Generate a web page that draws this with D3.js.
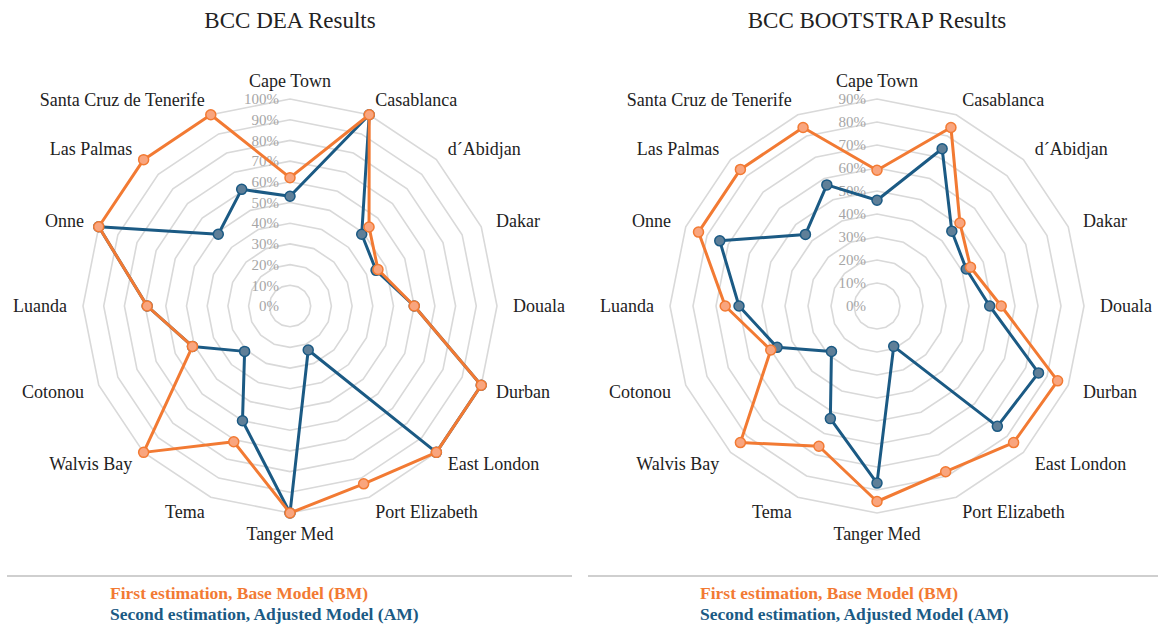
<!DOCTYPE html>
<html>
<head>
<meta charset="utf-8">
<script src="https://cdn.jsdelivr.net/npm/d3@7"></script>
<style>
  body { margin: 0; background: #fff; }
  svg text { font-family: "Liberation Serif", "DejaVu Serif", "Times New Roman", Times, serif; }
</style>
</head>
<body>
<svg width="1161" height="631"></svg>
<script>
const categories = ["Cape Town", "Casablanca", "d´Abidjan", "Dakar", "Douala", "Durban", "East London",
   "Port Elizabeth", "Tanger Med", "Tema", "Walvis Bay", "Cotonou", "Luanda", "Onne", "Las Palmas",
   "Santa Cruz de Tenerife"];

// BCC DEA (%)
const deaBM = [62, 100, 54, 46, 60, 100, 100, 93, 100, 71, 100, 51, 69, 100, 100, 100];
const deaAM = [53, 100, 49, 45, 60, 100, 100, 23, 100, 60, 31, 51, 69, 100, 49, 61];
// BCC bootstrap (%)
const bootBM = [59, 84, 51, 44, 54, 85, 84, 78, 85, 66, 84, 50, 66, 84, 84, 84];
const bootAM = [46, 74, 46, 42, 49, 76, 74, 19, 77, 53, 28, 47, 60, 74, 44, 57];

const deaTicks = [0, 10, 20, 30, 40, 50, 60, 70, 80, 90, 100];
const bootTicks = [0, 10, 20, 30, 40, 50, 60, 70, 80, 90];

const legendLabels = ["First estimation, Base Model (BM)", "Second estimation, Adjusted Model (AM)"];

const ORANGE = "#F27A33";
const ORANGE_FILL = "#F9A57E";
const BLUE = "#1B5A84";
const BLUE_FILL = "#5F7F98";
const GRID = "#d9d9d9";
const RADIUS = 207;

const svg = d3.select("svg");

const angle = d3.scaleLinear().domain([0, categories.length]).range([0, 2 * Math.PI]);

const drawRadar = (cx, cy, title, ticks, bm, am) => {
   const maxTick = d3.max(ticks);
   const r = d3.scaleLinear().domain([0, maxTick]).range([0, RADIUS]);
   const g = svg.append("g").attr("transform", `translate(${cx},${cy})`);

   svg.append("text")
      .attr("x", cx)
      .attr("y", 28)
      .attr("text-anchor", "middle")
      .attr("font-size", 23)
      .attr("fill", "#222")
      .text(title);

   // rings
   const ring = d3.lineRadial()
      .angle((d, i) => angle(i))
      .radius(d => d)
      .curve(d3.curveLinearClosed);
   g.append("g")
      .selectAll("path")
      .data(ticks.filter(t => t > 0))
      .enter()
      .append("path")
      .attr("d", t => ring(categories.map(() => r(t))))
      .attr("fill", "none")
      .attr("stroke", GRID)
      .attr("stroke-width", 1.6);

   // tick labels
   g.append("g")
      .selectAll("text")
      .data(ticks)
      .enter()
      .append("text")
      .attr("x", -11)
      .attr("y", t => -r(t))
      .attr("dy", "0.35em")
      .attr("text-anchor", "end")
      .attr("font-size", 15)
      .attr("fill", "#a6a6a6")
      .text(t => `${t}%`);

   // category labels
   g.append("g")
      .selectAll("text")
      .data(categories)
      .enter()
      .append("text")
      .attr("x", (d, i) => Math.sin(angle(i)) * (RADIUS + 16))
      .attr("y", (d, i) => -Math.cos(angle(i)) * (RADIUS + 16))
      .attr("dy", (d, i) => i === 0 ? "0.2em" : i === 8 ? "0.6em" : "0.35em")
      .attr("text-anchor", (d, i) => {
         const s = Math.sin(angle(i));
         if (Math.abs(s) < 0.01) return "middle";
         return s > 0 ? "start" : "end";
      })
      .attr("font-size", 18)
      .attr("fill", "#222")
      .text(d => d);

   const line = d3.lineRadial()
      .angle((d, i) => angle(i))
      .radius(d => r(d))
      .curve(d3.curveLinearClosed);

   [[am, BLUE, BLUE_FILL], [bm, ORANGE, ORANGE_FILL]].forEach(([vals, stroke, fill]) => {
      g.append("path")
         .attr("d", line(vals))
         .attr("fill", "none")
         .attr("stroke", stroke)
         .attr("stroke-width", 3)
         .attr("stroke-linejoin", "round");
      g.append("g")
         .selectAll("circle")
         .data(vals)
         .enter()
         .append("circle")
         .attr("cx", (d, i) => Math.sin(angle(i)) * r(d))
         .attr("cy", (d, i) => -Math.cos(angle(i)) * r(d))
         .attr("r", 5)
         .attr("fill", fill)
         .attr("stroke", stroke)
         .attr("stroke-width", 1.5);
   });
};

const drawLegend = (x0, x1, tx) => {
   svg.append("line")
      .attr("x1", x0).attr("x2", x1)
      .attr("y1", 576).attr("y2", 576)
      .attr("stroke", "#cfcfcf")
      .attr("stroke-width", 2);
   svg.append("g")
      .selectAll("text")
      .data(legendLabels)
      .enter()
      .append("text")
      .attr("x", tx)
      .attr("y", (d, i) => 599 + i * 21)
      .attr("font-size", 17.5)
      .attr("font-weight", "bold")
      .attr("fill", (d, i) => i === 0 ? ORANGE : BLUE)
      .text(d => d);
};

drawRadar(290, 306, "BCC DEA Results", deaTicks, deaBM, deaAM);
drawRadar(877, 306, "BCC BOOTSTRAP Results", bootTicks, bootBM, bootAM);
drawLegend(7, 572, 110);
drawLegend(588, 1158, 700);
</script>
</body>
</html>
